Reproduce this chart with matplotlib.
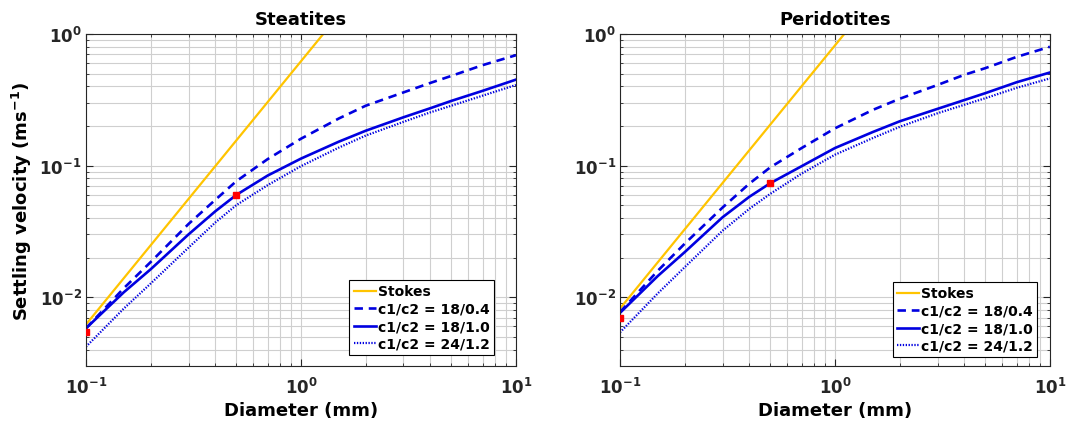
import numpy as np
import matplotlib
matplotlib.use("Agg")
import matplotlib.pyplot as plt
from matplotlib.ticker import LogLocator, FuncFormatter, NullFormatter

# values (diameter in mm, velocity in m/s)
diam = [0.1, 0.15, 0.2, 0.3, 0.4, 0.5, 0.7, 1.0, 1.5, 2.0, 3.0, 4.0, 5.0, 7.0, 10.0]

# Steatites
st_stokes_d = [0.1, 1.27]
st_stokes_v = [0.0062, 1.0]
st_dash = [0.0058, 0.0117, 0.0185, 0.036, 0.055, 0.076, 0.112, 0.160,
           0.228, 0.285, 0.36, 0.425, 0.48, 0.58, 0.69]
st_solid = [0.0058, 0.0109, 0.0163, 0.030, 0.045, 0.0598, 0.084, 0.113,
            0.152, 0.184, 0.233, 0.273, 0.31, 0.37, 0.45]
st_dot = [0.0042, 0.0082, 0.0127, 0.0238, 0.037, 0.050, 0.071, 0.099,
          0.137, 0.169, 0.215, 0.254, 0.285, 0.34, 0.41]
st_red_d = [0.1, 0.5]
st_red_v = [0.0054, 0.0598]

# Peridotites
pe_stokes_d = [0.1, 1.105]
pe_stokes_v = [0.0082, 1.0]
pe_dash = [0.0077, 0.0159, 0.0255, 0.048, 0.073, 0.097, 0.136, 0.192,
           0.265, 0.322, 0.41, 0.49, 0.55, 0.67, 0.80]
pe_solid = [0.0076, 0.0145, 0.022, 0.0405, 0.058, 0.0735, 0.099, 0.136,
            0.18, 0.217, 0.27, 0.315, 0.355, 0.43, 0.51]
pe_dot = [0.0054, 0.0107, 0.0169, 0.032, 0.047, 0.061, 0.087, 0.121,
          0.162, 0.197, 0.25, 0.29, 0.325, 0.39, 0.46]
pe_red_d = [0.1, 0.5]
pe_red_v = [0.0070, 0.0735]

labels = ["Stokes", "c1/c2 = 18/0.4", "c1/c2 = 18/1.0", "c1/c2 = 24/1.2"]

yellow = "#FFC400"
blue = "#0000E0"
dark = "#262626"

plt.rcParams['font.family'] = ['DejaVu Sans']
plt.rcParams['font.weight'] = 'bold'

fig = plt.figure(figsize=(10.73, 4.27), dpi=100)
ax1 = fig.add_axes([0.0801, 0.1405, 0.4007, 0.7775])
ax2 = fig.add_axes([0.5778, 0.1405, 0.4007, 0.7775])

def powfmt(v, pos):
    e = int(round(np.log10(v)))
    return r"$\mathbf{10^{%d}}$" % e

def panel(ax, title, sd, sv, dash, solid, dot, rd, rv, leg_anchor):
    ax.plot(sd, sv, color=yellow, lw=1.6, label=labels[0])
    ax.plot(diam, dash, color=blue, lw=1.9, dashes=(3.2, 2.2), label=labels[1])
    ax.plot(diam, solid, color=blue, lw=1.9, label=labels[2])
    ax.plot(diam, dot, color=blue, lw=1.6, linestyle=(0, (0.6, 0.7)), label=labels[3])
    ax.plot(rd, rv, 's', color='red', ms=4, mec='red', zorder=5)
    ax.set_xscale('log')
    ax.set_yscale('log')
    ax.set_xlim(0.1, 10)
    ax.set_ylim(0.003, 1)
    ax.xaxis.set_major_locator(LogLocator(base=10, numticks=10))
    ax.yaxis.set_major_locator(LogLocator(base=10, numticks=10))
    ax.xaxis.set_minor_locator(LogLocator(base=10, subs=np.arange(2, 10), numticks=20))
    ax.yaxis.set_minor_locator(LogLocator(base=10, subs=np.arange(2, 10), numticks=20))
    ax.xaxis.set_major_formatter(FuncFormatter(powfmt))
    ax.yaxis.set_major_formatter(FuncFormatter(powfmt))
    ax.xaxis.set_minor_formatter(NullFormatter())
    ax.yaxis.set_minor_formatter(NullFormatter())
    ax.grid(True, which='both', color='#cfcfcf', lw=0.8)
    ax.set_axisbelow(True)
    ax.tick_params(which='both', direction='in', top=True, right=True, colors=dark, labelsize=12)
    ax.tick_params(which='major', length=5)
    ax.tick_params(which='minor', length=2.5)
    ax.tick_params(axis='x', pad=8)
    ax.tick_params(axis='y', pad=3)
    for s in ax.spines.values():
        s.set_color(dark)
        s.set_linewidth(0.8)
    ax.set_title(title, fontsize=13, fontweight='bold', color='black', pad=7)
    ax.set_xlabel("Diameter (mm)", fontsize=13, fontweight='bold', color='black', labelpad=3)
    leg = ax.legend(loc='lower right', bbox_to_anchor=leg_anchor, borderaxespad=0,
                    fancybox=False, framealpha=1, edgecolor='black',
                    prop={'size': 10, 'weight': 'bold'}, handlelength=1.6,
                    handletextpad=0.15, labelspacing=0.25, borderpad=0.3)
    leg.get_frame().set_linewidth(0.8)

panel(ax1, "Steatites", st_stokes_d, st_stokes_v, st_dash, st_solid, st_dot,
      st_red_d, st_red_v, (0.949, 0.033))
panel(ax2, "Peridotites", pe_stokes_d, pe_stokes_v, pe_dash, pe_solid, pe_dot,
      pe_red_d, pe_red_v, (0.97, 0.027))

ax1.set_ylabel(r"Settling velocity (ms$^{\mathbf{-1}}$)", fontsize=13, fontweight='bold',
               color='black', labelpad=4)

fig.savefig("out.png", dpi=100)
